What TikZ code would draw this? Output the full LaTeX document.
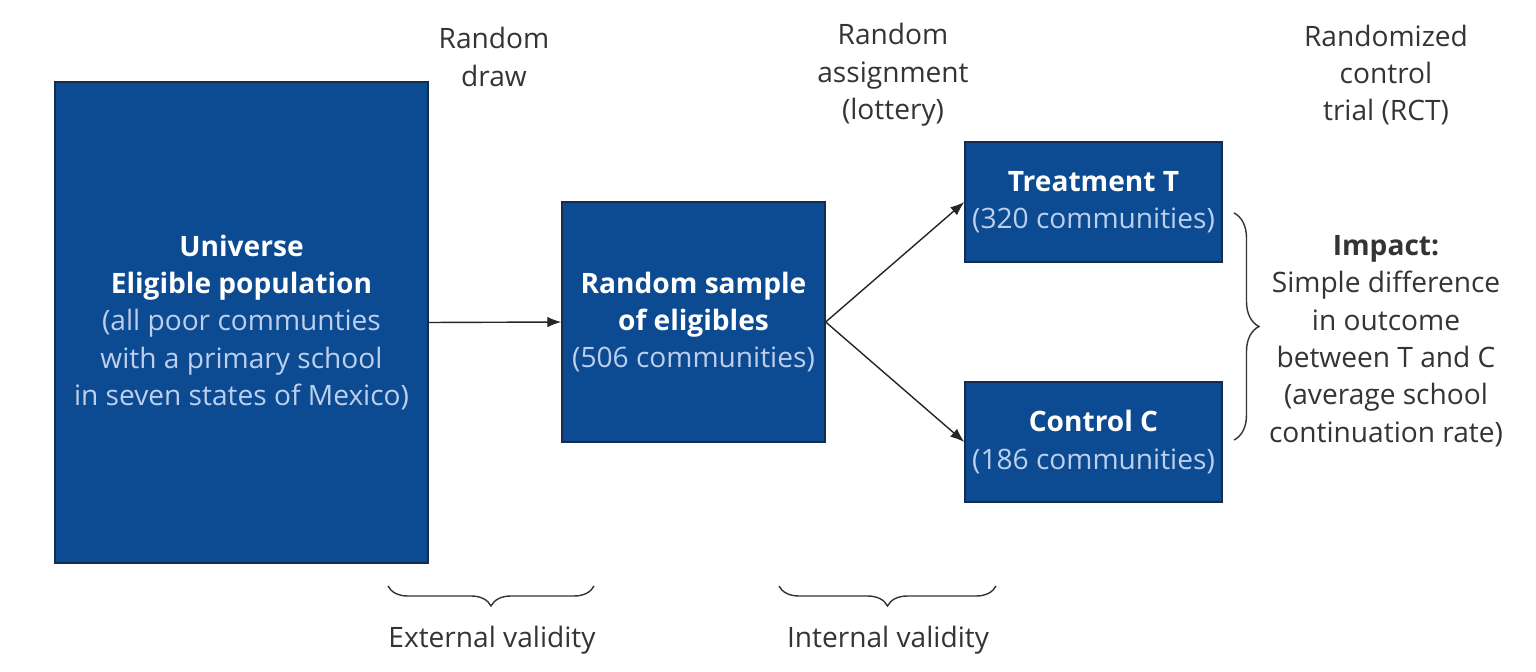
\documentclass[tikz,border=0pt]{standalone}
\usepackage{fontspec}
\setmainfont{Open Sans}
\usetikzlibrary{positioning,arrows.meta,decorations.pathreplacing}
\definecolor{bleu}{RGB}{12,74,146}
\definecolor{bord}{RGB}{22,44,78}
\definecolor{clair}{RGB}{188,208,238}
\definecolor{gris}{RGB}{52,52,52}
\newcommand{\titre}[1]{\textcolor{white}{\bfseries #1}}

\begin{document}
\begin{tikzpicture}[x=0.02cm,y=-0.02cm,
  font=\fontsize{16}{21.3}\selectfont,
  boite/.style={draw=bord,line width=0.8pt,fill=bleu,text=clair,align=center,inner sep=0pt},
  lbl/.style={text=gris,align=center},
  fl/.style={-{Latex[length=8pt,width=6pt]},line width=0.8pt,draw=black!85},
  acc/.style={decorate,decoration={brace,amplitude=#1},line width=0.8pt,draw=gris}]
\useasboundingbox[fill=white](0,0)rectangle(1536,672);
% boites
\node[boite,minimum width=7.46cm,minimum height=9.62cm](univ)at(241.5,322.5)
  {\titre{Universe}\\\titre{Eligible population}\\(all poor communties\\with a primary school\\in seven states of Mexico)};
\node[boite,minimum width=5.26cm,minimum height=4.8cm](samp)at(693.5,322)
  {\titre{Random sample}\\\titre{of eligibles}\\(506 communities)};
\node[boite,minimum width=5.14cm,minimum height=2.4cm](treat)at(1093.5,202)
  {\titre{Treatment T}\\(320 communities)};
\node[boite,minimum width=5.14cm,minimum height=2.4cm](ctrl)at(1093.5,442)
  {\titre{Control C}\\(186 communities)};
% fleches
\draw[fl](univ.east)--(samp.west);
\draw[fl](samp.east)--(treat.west);
\draw[fl](samp.east)--(ctrl.west);
% titres du haut
\node[lbl](draw)at(494,57){Random\\draw};
\node[lbl](assign)at(893,75){Random\\assignment\\(lottery)};
\node[lbl](rct)at(1386,75){Randomized\\control\\trial (RCT)};
% accolades
\coordinate(e1)at(594,586);
\coordinate(e2)at(388,586);
\coordinate(i1)at(996,586);
\coordinate(i2)at(779,586);
\coordinate(r1)at(1234,213);
\coordinate(r2)at(1234,440);
\draw[acc=0.4cm](e1)--(e2);
\draw[acc=0.4cm](i1)--(i2);
\draw[acc=0.5cm](r1)--(r2);
\node[lbl](ext)at(492,640){External validity};
\node[lbl](int)at(888,640){Internal validity};
\node[lbl](impact)at(1386,341){\textbf{Impact:}\\Simple difference\\in outcome\\between T and C\\(average school\\continuation rate)};
\end{tikzpicture}
\end{document}
